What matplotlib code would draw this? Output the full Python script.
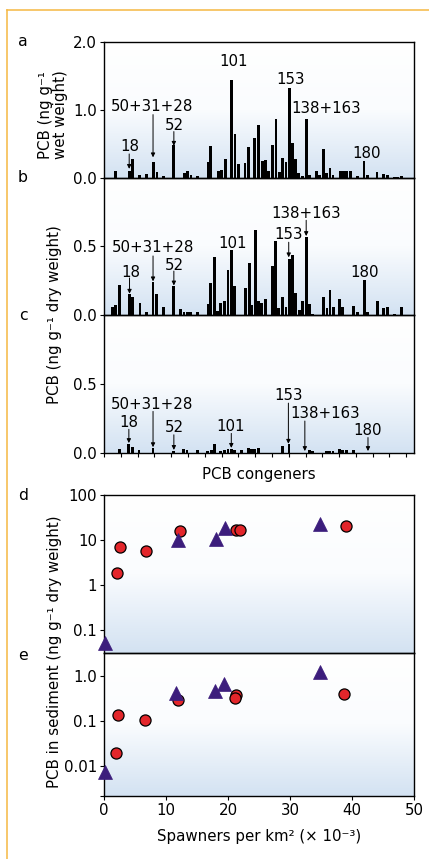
import numpy as np
import matplotlib
matplotlib.use("Agg")
import matplotlib.pyplot as plt
from matplotlib.colors import LinearSegmentedColormap
from matplotlib.lines import Line2D
from matplotlib.transforms import ScaledTranslation

plt.rcParams['font.family'] = ['DejaVu Sans']

# ---------------- data: congener bar charts (position along congener axis, value) -------------
pos_a = [3.5, 7.7, 8.6, 10.6, 12.7, 14.7, 15.8, 17.6, 20.8, 23.9, 24.8, 25.9, 27.9, 31.0, 31.8,
         34.0, 35.0, 36.1, 37.9, 39.0, 40.0, 42.0, 43.0, 44.9, 46.0, 47.1, 48.1, 49.1, 50.1, 51.2,
         52.2, 53.2, 54.2, 55.2, 56.2, 57.1, 58.0, 59.1, 60.3, 61.3, 63.3, 64.2, 65.3, 66.2, 67.3,
         68.2, 70.3, 71.3, 72.3, 73.3, 75.4, 77.4, 78.4, 81.3, 83.3, 84.3, 86.5, 87.5, 88.7]
val_a = [0.10, 0.10, 0.28, 0.04, 0.06, 0.23, 0.09, 0.03, 0.48, 0.07, 0.10, 0.04, 0.03, 0.23, 0.46,
         0.10, 0.11, 0.28, 1.44, 0.64, 0.20, 0.22, 0.45, 0.58, 0.78, 0.25, 0.26, 0.10, 0.48, 0.86,
         0.09, 0.29, 0.23, 1.32, 0.51, 0.28, 0.07, 0.03, 0.87, 0.04, 0.10, 0.04, 0.42, 0.07, 0.15,
         0.04, 0.10, 0.10, 0.10, 0.10, 0.03, 0.25, 0.04, 0.09, 0.06, 0.04, 0.01, 0.01, 0.02]

pos_b = [2.5, 3.5, 4.5, 7.6, 8.6, 10.7, 12.6, 14.6, 15.7, 17.8, 20.8, 22.8, 23.8, 24.8, 25.7,
         27.9, 31.0, 31.8, 32.9, 33.8, 34.8, 35.8, 36.9, 37.9, 38.9, 42.2, 43.2, 44.0, 45.0, 46.0,
         47.0, 48.1, 50.1, 51.1, 52.0, 53.2, 54.2, 55.2, 56.2, 57.1, 58.1, 59.1, 60.2, 61.2, 62.1,
         65.3, 66.4, 67.3, 68.3, 70.2, 71.1, 74.2, 75.4, 77.5, 78.5, 81.4, 83.3, 84.3, 86.5, 88.7]
val_b = [0.06, 0.07, 0.22, 0.15, 0.13, 0.085, 0.02, 0.24, 0.15, 0.06, 0.21, 0.045, 0.02, 0.02, 0.02,
         0.02, 0.08, 0.23, 0.42, 0.03, 0.085, 0.105, 0.33, 0.47, 0.21, 0.20, 0.38, 0.07, 0.62, 0.10,
         0.085, 0.12, 0.36, 0.54, 0.05, 0.13, 0.06, 0.41, 0.44, 0.16, 0.04, 0.10, 0.565, 0.08, 0.005,
         0.13, 0.05, 0.18, 0.055, 0.12, 0.055, 0.065, 0.02, 0.255, 0.02, 0.105, 0.05, 0.06, 0.01, 0.055]

pos_c = [4.5, 7.4, 8.4, 10.4, 14.6, 20.8, 23.7, 24.7, 27.8, 30.9, 31.9, 32.9, 34.8, 35.8, 36.9,
         37.9, 38.9, 40.9, 42.9, 43.9, 44.9, 46.0, 53.1, 55.1, 61.2, 62.2, 66.2, 67.2, 68.2, 70.2,
         71.1, 72.2, 74.2]
val_c = [0.03, 0.065, 0.04, 0.02, 0.035, 0.01, 0.025, 0.017, 0.017, 0.012, 0.017, 0.06, 0.012, 0.017, 0.025,
         0.03, 0.017, 0.017, 0.037, 0.03, 0.03, 0.037, 0.05, 0.06, 0.017, 0.012, 0.012, 0.012, 0.012, 0.027,
         0.02, 0.017, 0.017]

# annotations: (label, text x, text y, arrow x, arrow tail y, arrow head y) ; None = no arrow
ann_a = [("18", 7.6, 0.47, 7.5, 0.35, 0.13),
         ("50+31+28", 14.3, 1.06, 14.6, 0.93, 0.30),
         ("52", 21.0, 0.78, 20.8, 0.68, 0.47),
         ("101", 38.7, 1.72, None, None, None),
         ("153", 55.6, 1.46, None, None, None),
         ("138+163", 66.2, 1.04, None, None, None),
         ("180", 78.1, 0.37, None, None, None)]
ann_b = [("18", 7.9, 0.32, 7.6, 0.27, 0.155),
         ("50+31+28", 14.6, 0.50, 14.6, 0.43, 0.245),
         ("52", 21.0, 0.37, 20.8, 0.32, 0.215),
         ("101", 38.4, 0.53, None, None, None),
         ("153", 55.0, 0.59, 55.0, 0.53, 0.42),
         ("138+163", 60.2, 0.75, 60.2, 0.69, 0.575),
         ("180", 77.6, 0.32, None, None, None)]
ann_c = [("18", 7.4, 0.23, 7.4, 0.17, 0.07),
         ("50+31+28", 14.4, 0.36, 14.6, 0.30, 0.04),
         ("52", 21.0, 0.19, 20.8, 0.13, 0.02),
         ("101", 37.7, 0.20, 37.9, 0.14, 0.035),
         ("153", 54.9, 0.42, 54.9, 0.36, 0.065),
         ("138+163", 65.7, 0.29, 59.8, 0.23, 0.012),
         ("180", 78.6, 0.17, 78.6, 0.11, 0.012)]

# ---------------- data: sediment PCB vs spawner density ----------------
d_circ_x = [2.1, 2.5, 6.8, 12.2, 21.3, 21.9, 39.0]
d_circ_y = [1.85, 7.0, 5.5, 16.0, 16.6, 16.6, 20.7]
d_tri_x = [0.1, 11.9, 18.1, 19.5, 34.9]
d_tri_y = [0.049, 9.9, 10.2, 18.0, 22.0]

e_circ_x = [1.9, 2.3, 6.6, 11.9, 21.3, 21.1, 38.7]
e_circ_y = [0.020, 0.14, 0.106, 0.29, 0.38, 0.32, 0.41]
e_tri_x = [0.1, 11.6, 17.9, 19.3, 34.8]
e_tri_y = [0.0074, 0.43, 0.46, 0.66, 1.23]

# ---------------- figure ----------------
W, H = 429, 859
fig = plt.figure(figsize=(W / 100, H / 100), dpi=100)

def rect(l, t, r, b):
    return [l / W, 1 - b / H, (r - l) / W, (b - t) / H]

grad = LinearSegmentedColormap.from_list('g', ['#ffffff', '#fafcfe', '#d3e2f2'])
FS = 10.8
BAR_C = 'black'
CAP_HALF = 0.365 * FS  # half cap height in points

def make_axes(r):
    bg = fig.add_axes(r, zorder=0)
    bg.imshow(np.linspace(0, 1, 256).reshape(-1, 1), cmap=grad, aspect='auto',
              extent=[0, 1, 0, 1])
    bg.set_axis_off()
    ax = fig.add_axes(r, zorder=1)
    ax.set_facecolor('none')
    for s in ax.spines.values():
        s.set_linewidth(1.0)
        s.set_color('black')
    ax.tick_params(labelsize=FS, length=3, width=0.8, direction='out', pad=2)
    return ax

rects = {
    'a': rect(104, 42, 414, 177.7),
    'b': rect(104, 177.7, 414, 315),
    'c': rect(104, 315, 414, 452.7),
    'd': rect(104, 495, 414, 653),
    'e': rect(104, 653, 414, 796),
}

def bar_panel(ax, pos, val, ann, ymax, ticks):
    ax.bar(pos, val, width=0.85, color=BAR_C, linewidth=0, zorder=2)
    ax.set_xlim(0, 92.3)
    ax.set_ylim(0, ymax)
    ax.set_yticks(ticks)
    ax.set_yticklabels([f"{t:.1f}" for t in ticks])
    shift = ScaledTranslation(0, -CAP_HALF / 72, fig.dpi_scale_trans)
    for lab, tx, ty, axx, t0, t1 in ann:
        ax.text(tx, ty, lab, ha='center', va='baseline', fontsize=FS, zorder=3,
                transform=ax.transData + shift)
        if axx is not None:
            ax.annotate('', xy=(axx, t1), xytext=(axx, t0),
                        arrowprops=dict(arrowstyle='-|>', color='black', lw=0.7,
                                        mutation_scale=6, shrinkA=0, shrinkB=0), zorder=3)

ax_a = make_axes(rects['a'])
bar_panel(ax_a, pos_a, val_a, ann_a, 2.0, [0.0, 1.0, 2.0])
ax_a.set_xticks([])

ax_b = make_axes(rects['b'])
bar_panel(ax_b, pos_b, val_b, ann_b, 1.0, [0.0, 0.5])
ax_b.set_xticks([])

ax_c = make_axes(rects['c'])
bar_panel(ax_c, pos_c, val_c, ann_c, 1.0, [0.0, 0.5])
ax_c.set_xticks(np.arange(0, 91, 5))
ax_c.set_xticklabels([])
ax_c.set_xlabel('PCB congeners', fontsize=FS, labelpad=5)

CIRC = dict(marker='o', ms=8, mfc='#e3262b', mec='black', mew=0.9, ls='none', zorder=3)
TRI = dict(marker='^', ms=10.5, mfc='#3c1d7c', mec='#3c1d7c', mew=0.5, ls='none', zorder=4)

ax_d = make_axes(rects['d'])
ax_d.set_yscale('log')
ax_d.plot(d_circ_x, d_circ_y, clip_on=False, **CIRC)
ax_d.plot(d_tri_x, d_tri_y, clip_on=False, **TRI)
ax_d.set_xlim(0, 50)
ax_d.set_ylim(0.03, 100)
ax_d.set_yticks([0.1, 1, 10, 100])
ax_d.set_yticklabels(['0.1', '1', '10', '100'])
ax_d.yaxis.set_minor_locator(matplotlib.ticker.NullLocator())
ax_d.set_xticks([])

ax_e = make_axes(rects['e'])
ax_e.set_yscale('log')
ax_e.plot(e_circ_x, e_circ_y, clip_on=False, **CIRC)
ax_e.plot(e_tri_x, e_tri_y, clip_on=False, **TRI)
ax_e.set_xlim(0, 50)
ax_e.set_ylim(0.0022, 3.26)
ax_e.set_yticks([0.0022, 0.01, 0.1, 1.0])
ax_e.set_yticklabels(['', '0.01', '0.1', '1.0'])
ax_e.yaxis.set_minor_locator(matplotlib.ticker.NullLocator())
ax_e.set_xticks([0, 10, 20, 30, 40, 50])
ax_e.set_xlabel('Spawners per km² (× 10⁻³)', fontsize=FS, labelpad=8)

# panel letters
for letter, yy in [('a', 42), ('b', 178), ('c', 315), ('d', 495), ('e', 655)]:
    fig.text(23 / W, 1 - yy / H, letter, fontsize=FS + 0.5, ha='center', va='center')

# y labels
fig.text(53 / W, 1 - 115 / H, 'PCB (ng g⁻¹\nwet weight)', rotation=90, ha='center',
         va='center', fontsize=FS, linespacing=0.95)
fig.text(54 / W, 1 - 315 / H, 'PCB (ng g⁻¹ dry weight)', rotation=90, ha='center',
         va='center', fontsize=FS)
fig.text(54 / W, 1 - 652 / H, 'PCB in sediment (ng g⁻¹ dry weight)', rotation=90, ha='center',
         va='center', fontsize=FS)

# orange frame
oc = '#f5b843'
fig.add_artist(Line2D([6.7 / W, 1.0], [1 - 10.3 / H, 1 - 10.3 / H], color=oc, lw=1.1,
                      transform=fig.transFigure))
fig.add_artist(Line2D([6.7 / W, 6.7 / W], [1 - 10.3 / H, 0.0], color=oc, lw=1.1,
                      transform=fig.transFigure))

fig.savefig('out.png', dpi=100)
